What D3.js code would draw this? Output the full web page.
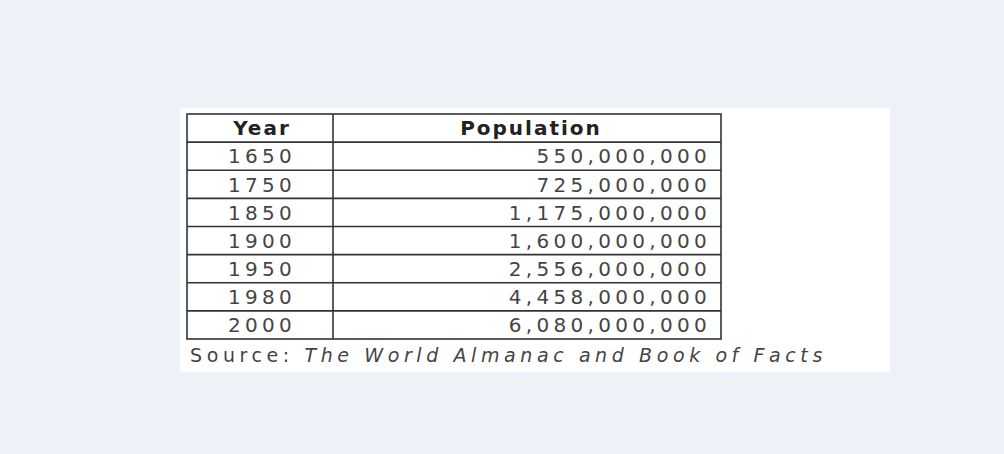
<!DOCTYPE html>
<html><head><meta charset="utf-8">
<script src="https://cdn.jsdelivr.net/npm/d3@7"></script>
<style>body{margin:0;background:#edf1f8;}</style>
</head><body>
<script>
var years = ["1650","1750","1850","1900","1950","1980","2000"];
var population = ["550,000,000","725,000,000","1,175,000,000","1,600,000,000","2,556,000,000","4,458,000,000","6,080,000,000"];
var headers = ["Year","Population"];

var svg = d3.select("body").append("svg").attr("width",1004).attr("height",454);
svg.append("rect").attr("width",1004).attr("height",454).attr("fill","#edf1f8");
svg.append("rect").attr("x",180).attr("y",108).attr("width",710).attr("height",264).attr("fill","#fff");

var tLeft = 187, tMid = 333, tRight = 721, tTop = 114, tBottom = 339;
var y = d3.scaleBand().domain(d3.range(years.length + 1)).range([tTop, tBottom]);
var font = "'DejaVu Sans', Verdana, sans-serif";
var g = svg.append("g").attr("font-family", font).attr("font-size", 20)
  .attr("letter-spacing", 4.3).attr("fill","#444");

// grid
g.append("rect").attr("x",tLeft).attr("y",tTop).attr("width",tRight-tLeft).attr("height",tBottom-tTop)
  .attr("fill","none").attr("stroke","#333").attr("stroke-width",1.6);
g.append("line").attr("x1",tMid).attr("x2",tMid).attr("y1",tTop).attr("y2",tBottom).attr("stroke","#333").attr("stroke-width",1.6);
d3.range(1, years.length + 1).forEach(function(i){
  g.append("line").attr("x1",tLeft).attr("x2",tRight).attr("y1",y(i)).attr("y2",y(i)).attr("stroke","#333").attr("stroke-width",1.6);
});

g.append("text").attr("x",(tLeft+tMid)/2+2).attr("y",y(0)+y.bandwidth()/2).attr("dy","0.36em")
  .attr("text-anchor","middle").attr("font-weight","bold").attr("letter-spacing",2).attr("fill","#222").text(headers[0]);
g.append("text").attr("x",531).attr("y",y(0)+y.bandwidth()/2).attr("dy","0.36em")
  .attr("text-anchor","middle").attr("font-weight","bold").attr("letter-spacing",2).attr("fill","#222").text(headers[1]);

years.forEach(function(yr, i){
  g.append("text").attr("x",(tLeft+tMid)/2+2).attr("y",y(i+1)+y.bandwidth()/2).attr("dy","0.36em")
    .attr("text-anchor","middle").text(yr);
  g.append("text").attr("x",tRight-10).attr("y",y(i+1)+y.bandwidth()/2).attr("dy","0.36em")
    .attr("text-anchor","end").text(population[i]);
});

var src = g.append("text").attr("x",190).attr("y",362).attr("font-size",19).attr("letter-spacing",4.6);
src.append("tspan").text("Source: ");
src.append("tspan").attr("font-style","italic").text("The World Almanac and Book of Facts");
</script>
</body></html>
